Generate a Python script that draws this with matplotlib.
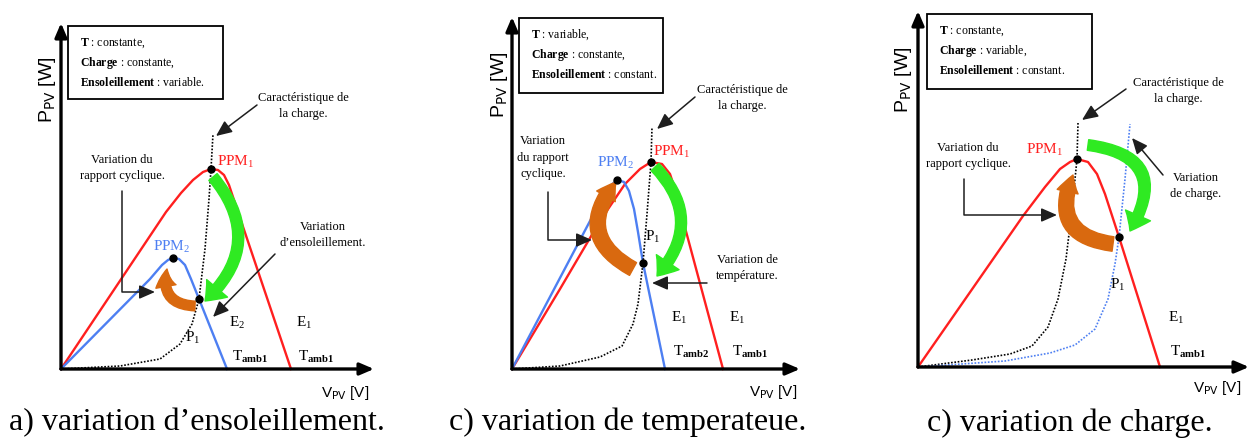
import matplotlib.pyplot as plt
from matplotlib.patches import FancyArrowPatch, Rectangle

plt.rcParams['font.family'] = ['Liberation Serif', 'DejaVu Serif']
plt.rcParams['mathtext.fontset'] = 'custom'
plt.rcParams['mathtext.rm'] = 'Liberation Serif'
plt.rcParams['mathtext.it'] = 'Liberation Serif:italic'
plt.rcParams['mathtext.bf'] = 'Liberation Serif:bold'

RED = '#ff1f1f'
BLUE = '#4d7ff2'
GREEN = '#2fea22'
ORANGE = '#d9690f'
INK = '#1e1e1e'

# a) variation d'ensoleillement  (V, P in arbitrary units)
a_red_v = [0, 105, 120, 132, 142, 150, 157, 163, 168, 174, 230]
a_red_p = [0, 157, 176, 189, 197, 200, 199, 194, 184, 166, 0]
a_blue_v = [0, 89, 101, 107, 112, 118, 124, 130, 138, 166]
a_blue_p = [0, 90, 104, 109, 111, 110, 104, 90, 70, 0]
a_load_v = [0, 59, 99, 119, 131, 138, 144, 148, 150, 152]
a_load_p = [0, 3, 10, 25, 45, 70, 120, 170, 200, 235]
a_dots_v = [150, 112, 138]
a_dots_p = [200, 111, 70]

# c) variation de temperature
b_red_v = [0, 48, 88, 113, 128, 139, 150, 158, 163, 168, 211]
b_red_p = [0, 80, 148, 185, 200, 207, 205, 195, 180, 160, 0]
b_blue_v = [0, 88, 98, 105, 112, 117, 122, 126, 131, 153]
b_blue_p = [0, 167, 183, 189, 187, 178, 160, 137, 106, 0]
b_load_v = [0, 48, 88, 110, 121, 126, 131, 135, 139, 140]
b_load_p = [0, 3, 12, 23, 45, 65, 106, 155, 207, 242]
b_dots_v = [139, 105, 131]
b_dots_p = [207, 189, 106]

# c) variation de charge
c_red_v = [0, 105, 127, 142, 152, 159, 170, 179, 187, 201, 242]
c_red_p = [0, 151, 180, 198, 205, 208, 205, 193, 173, 130, 0]
c_load_v = [0, 54, 92, 114, 130, 140, 148, 154, 159, 160]
c_load_p = [0, 7, 13, 21, 40, 68, 108, 158, 208, 244]
c_load2_v = [0, 87, 132, 157, 177, 190, 197, 201, 207, 212]
c_load2_p = [0, 6, 14, 22, 38, 68, 103, 130, 188, 243]
c_dots_v = [159, 201]
c_dots_p = [208, 130]

W, H = 1258, 439
fig = plt.figure(figsize=(W / 100, H / 100), dpi=100)


def panel(x0, y0, w, h):
    ax = fig.add_axes([x0 / W, (H - y0) / H, w / W, h / H])
    ax.set_xlim(0, w)
    ax.set_ylim(0, h)
    ax.axis('off')
    arrow = dict(arrowstyle='-|>,head_length=0.7,head_width=0.3', lw=2.4, color='black',
                 mutation_scale=12, shrinkA=0, shrinkB=0)
    ax.annotate('', xy=(w, 0), xytext=(0, 0), arrowprops=arrow, annotation_clip=False)
    ax.annotate('', xy=(0, h), xytext=(0, 0), arrowprops=arrow, annotation_clip=False)
    return ax


def pointer(ax, start, end, elbow=False):
    props = dict(arrowstyle='-|>,head_length=0.8,head_width=0.35', lw=1.1, color=INK,
                 mutation_scale=12, shrinkA=0, shrinkB=0)
    if elbow:
        props['connectionstyle'] = 'angle,angleA=90,angleB=0,rad=0'
    ax.annotate('', xy=end, xytext=start, arrowprops=props, annotation_clip=False)


def bent(ax, start, end, rad, color, tail, head=1.3):
    ax.add_patch(FancyArrowPatch(start, end, connectionstyle=f'arc3,rad={rad}',
                                 arrowstyle=f'simple,tail_width={tail},head_width={head},head_length=0.9',
                                 mutation_scale=14, color=color, shrinkA=0, shrinkB=0, zorder=3))


def infobox(ax, x, y, w, h, lines):
    ax.add_patch(Rectangle((x, y), w, h, fill=False, lw=1.3, ec='black', clip_on=False))
    for i, s in enumerate(lines):
        ax.text(x + 12, y + h - 16 - i * 20, s, fontsize=8.5, va='center', ha='left')


def axis_labels(ax, p_xy, v_xy, caption, cap_xy):
    ax.text(*p_xy, r'P$_{\mathrm{PV}}$ [W]', rotation=90, fontsize=14, ha='center', va='center',
            family='Liberation Sans', math_fontfamily='dejavusans')
    ax.text(*v_xy, r'V$_{\mathrm{PV}}$ [V]', fontsize=11, ha='center', va='center',
            family='Liberation Sans', math_fontfamily='dejavusans')
    ax.text(*cap_xy, caption, fontsize=23, ha='center', va='center')


def curve(ax, v, p, color, ls='-', lw=1.7):
    ax.plot(v, p, color=color, lw=lw, ls=ls, clip_on=False, zorder=2)


# ---------------- panel a
ax = panel(61, 370, 313, 346)
curve(ax, a_red_v, a_red_p, RED)
curve(ax, a_blue_v, a_blue_p, BLUE)
curve(ax, a_load_v, a_load_p, 'black', ls=(0, (1, 1)), lw=1.2)
bent(ax, (152, 192), (144, 68), -0.47, GREEN, 0.55, 1.4)
bent(ax, (134, 63), (106, 100), -0.6, ORANGE, 0.5, 1.05)
ax.plot(a_dots_v, a_dots_p, 'o', color='black', ms=5, zorder=4, clip_on=False)
infobox(ax, 7, 270, 155, 73, [r'$\mathbf{T}$ : constante,', r'$\mathbf{Charge}$ : constante,',
                              r'$\mathbf{Ensoleillement}$ : variable.'])
ax.text(156, 208, r'PPM$_1$', color=RED, fontsize=11, va='center', ha='left')
ax.text(111, 123, r'PPM$_2$', color=BLUE, fontsize=11, va='center', ha='center')
ax.text(132, 32, r'P$_1$', fontsize=11, va='center', ha='center')
ax.text(176, 47, r'E$_2$', fontsize=11, va='center', ha='center')
ax.text(243, 47, r'E$_1$', fontsize=11, va='center', ha='center')
ax.text(171, 13, r'T$_{\mathbf{amb1}}$', fontsize=11, va='center', ha='left')
ax.text(237, 13, r'T$_{\mathbf{amb1}}$', fontsize=11, va='center', ha='left')
ax.text(61, 202, 'Variation du\nrapport cyclique.', fontsize=9, ha='center', va='center', linespacing=1.5)
pointer(ax, (61, 178), (94, 77), elbow=True)
ax.text(242, 264, 'Caractéristique de\nla charge.', fontsize=9, ha='center', va='center', linespacing=1.5)
pointer(ax, (196, 264), (155, 233))
ax.text(262, 135, 'Variation\nd’ensoleillement.', fontsize=9, ha='center', va='center', linespacing=1.5)
pointer(ax, (214, 115), (152, 52))
axis_labels(ax, (-13, 280), (284, -23), 'a) variation d’ensoleillement.', (136, -53))

# ---------------- panel b
ax = panel(512, 370, 288, 352)
curve(ax, b_red_v, b_red_p, RED)
curve(ax, b_blue_v, b_blue_p, BLUE)
curve(ax, b_load_v, b_load_p, 'black', ls=(0, (1, 1)), lw=1.2)
bent(ax, (143, 202), (145, 93), -0.46, GREEN, 0.55, 1.4)
bent(ax, (121, 100), (104, 187), -0.6, ORANGE, 0.75, 1.1)
ax.plot(b_dots_v, b_dots_p, 'o', color='black', ms=5, zorder=4, clip_on=False)
infobox(ax, 7, 276, 144, 75, [r'$\mathbf{T}$ : variable,', r'$\mathbf{Charge}$ : constante,',
                              r'$\mathbf{Ensoleillement}$ : constant.'])
ax.text(160, 218, r'PPM$_1$', color=RED, fontsize=11, va='center', ha='center')
ax.text(104, 207, r'PPM$_2$', color=BLUE, fontsize=11, va='center', ha='center')
ax.text(141, 133, r'P$_1$', fontsize=11, va='center', ha='center')
ax.text(167, 52, r'E$_1$', fontsize=11, va='center', ha='center')
ax.text(225, 52, r'E$_1$', fontsize=11, va='center', ha='center')
ax.text(161, 18, r'T$_{\mathbf{amb2}}$', fontsize=11, va='center', ha='left')
ax.text(220, 18, r'T$_{\mathbf{amb1}}$', fontsize=11, va='center', ha='left')
ax.text(31, 212, 'Variation\ndu rapport\ncyclique.', fontsize=9, ha='center', va='center', linespacing=1.5)
pointer(ax, (36, 177), (80, 129), elbow=True)
ax.text(230, 272, 'Caractéristique de\nla charge.', fontsize=9, ha='center', va='center', linespacing=1.5)
pointer(ax, (183, 272), (145, 240))
ax.text(235, 102, 'Variation de\ntempérature.', fontsize=9, ha='center', va='center', linespacing=1.5)
pointer(ax, (195, 86), (140, 86))
axis_labels(ax, (-13, 285), (261, -22), 'c) variation de temperateue.', (116, -52))

# ---------------- panel c
ax = panel(918, 368, 331, 356)
curve(ax, c_red_v, c_red_p, RED)
curve(ax, c_load_v, c_load_p, 'black', ls=(0, (1, 1)), lw=1.2)
curve(ax, c_load2_v, c_load2_p, BLUE, ls=(0, (1, 1)), lw=1.2)
bent(ax, (170, 222), (212, 136), -0.75, GREEN, 0.55, 1.4)
bent(ax, (195, 123), (155, 192), -0.65, ORANGE, 0.75, 1.1)
ax.plot(c_dots_v, c_dots_p, 'o', color='black', ms=5, zorder=4, clip_on=False)
infobox(ax, 9, 278, 165, 75, [r'$\mathbf{T}$ : constante,', r'$\mathbf{Charge}$ : variable,',
                              r'$\mathbf{Ensoleillement}$ : constant.'])
ax.text(127, 218, r'PPM$_1$', color=RED, fontsize=11, va='center', ha='center')
ax.text(200, 83, r'P$_1$', fontsize=11, va='center', ha='center')
ax.text(258, 50, r'E$_1$', fontsize=11, va='center', ha='center')
ax.text(252, 16, r'T$_{\mathbf{amb1}}$', fontsize=11, va='center', ha='left')
ax.text(50, 212, 'Variation du\nrapport cyclique.', fontsize=9, ha='center', va='center', linespacing=1.5)
pointer(ax, (46, 188), (139, 152), elbow=True)
ax.text(260, 277, 'Caractéristique de\nla charge.', fontsize=9, ha='center', va='center', linespacing=1.5)
pointer(ax, (208, 278), (164, 247))
ax.text(278, 182, 'Variation\nde charge.', fontsize=9, ha='center', va='center', linespacing=1.5)
pointer(ax, (245, 192), (214, 229))
axis_labels(ax, (-15, 288), (299, -20), 'c) variation de charge.', (152, -55))

fig.savefig('out.png', dpi=100)
